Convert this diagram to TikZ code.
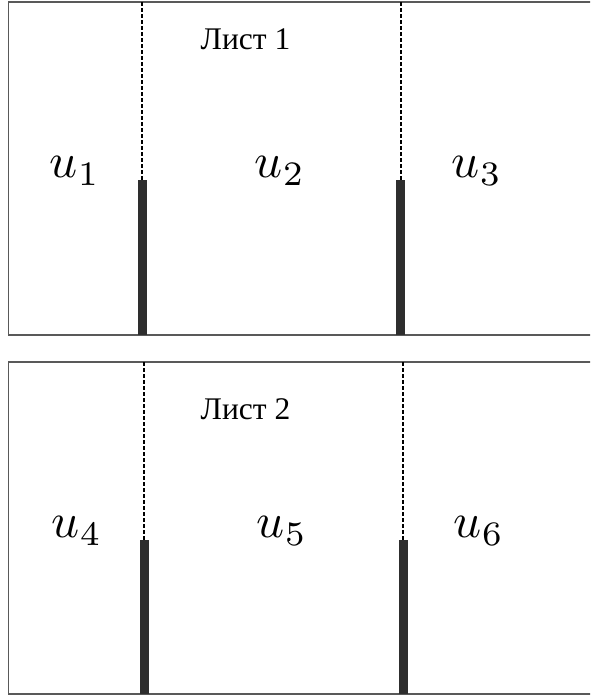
\documentclass[tikz,border=0pt]{standalone}
\usepackage{fontspec}
\setmainfont{Liberation Serif}
\begin{document}
\begin{tikzpicture}[x=1pt,y=-1pt,
  frame/.style={draw=black!65,line width=1.3pt},
  cut/.style={dashed,dash pattern=on 4pt off 2pt,line width=1.8pt},
  bar/.style={draw=none,fill=black!82},
  ulab/.style={font=\normalsize,scale=4.9,inner sep=0pt},
  sheet/.style={font=\fontsize{31.5}{35}\selectfont,inner sep=0pt}]
\useasboundingbox (0,0) rectangle (590,697);
\clip (0,0) rectangle (590,697);
% sheet 1
\draw[frame] (8.5,2) rectangle (600,335);
\draw[cut] (142,2) -- (142,181);
\draw[cut] (401,2) -- (401,181);
\fill[bar] (137.5,180) rectangle (146.5,335);
\fill[bar] (396,180) rectangle (405,335);
\node[sheet] (l1) at (245.5,39) {Лист 1};
\node[ulab] (u1) at (75,171) {$u_1$};
\node[ulab] (u2) at (280,171) {$u_2$};
\node[ulab] (u3) at (477,171) {$u_3$};
% sheet 2
\draw[frame] (8.5,362) rectangle (600,694);
\draw[cut] (144,362) -- (144,541);
\draw[cut] (403,362) -- (403,541);
\fill[bar] (140,540) rectangle (149,694);
\fill[bar] (398.5,540) rectangle (407.5,694);
\node[sheet] (l2) at (245.5,409) {Лист 2};
\node[ulab] (u4) at (77,531) {$u_4$};
\node[ulab] (u5) at (282,531) {$u_5$};
\node[ulab] (u6) at (479,531) {$u_6$};
\end{tikzpicture}
\end{document}
